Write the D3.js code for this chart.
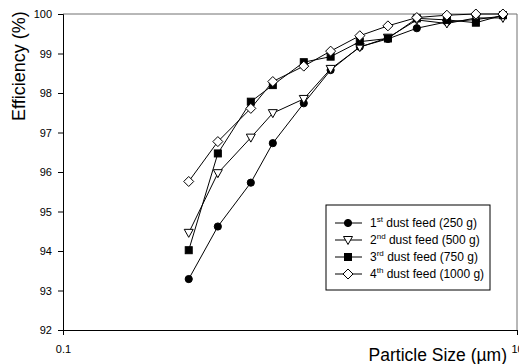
<!DOCTYPE html>
<html>
<head>
<meta charset="utf-8">
<script src="https://cdn.jsdelivr.net/npm/d3@7"></script>
<style>
  body { margin: 0; background: #fff; }
  svg { font-family: "Liberation Sans", Arial, sans-serif; }
</style>
</head>
<body>
<svg width="519" height="364"></svg>
<script>
// particle size (um) and collection efficiency (%) per dust feed
var sizes = [0.358, 0.481, 0.672, 0.84, 1.15, 1.51, 2.03, 2.70, 3.62, 4.91, 6.59, 8.67];
var feed1 = [93.29, 94.62, 95.73, 96.73, 97.74, 98.58, 99.17, 99.37, 99.64, 99.80, 99.86, 99.95];
var feed2 = [94.46, 95.97, 96.87, 97.49, 97.85, 98.61, 99.16, 99.40, 99.85, 99.76, 99.90, 99.90];
var feed3 = [94.02, 96.47, 97.78, 98.20, 98.78, 98.92, 99.30, 99.38, 99.89, 99.85, 99.78, 99.97];
var feed4 = [95.76, 96.77, 97.61, 98.29, 98.68, 99.06, 99.45, 99.70, 99.91, 99.97, 100.0, 100.0];
var yTicks = [92, 93, 94, 95, 96, 97, 98, 99, 100];
var xTicks = [0.1, 10];

var series = [
  { name: "1", sup: "st", rest: " dust feed (250 g)", values: feed1, shape: "circle" },
  { name: "2", sup: "nd", rest: " dust feed (500 g)", values: feed2, shape: "triangle" },
  { name: "3", sup: "rd", rest: " dust feed (750 g)", values: feed3, shape: "square" },
  { name: "4", sup: "th", rest: " dust feed (1000 g)", values: feed4, shape: "diamond" }
];

var margin = { top: 14, right: 2, bottom: 34, left: 63 };
var width = 519, height = 364;

var svg = d3.select("svg");

var x = d3.scaleLog()
  .domain([0.1, 10])
  .range([margin.left, width - margin.right]);

var y = d3.scaleLinear()
  .domain([92, 100])
  .range([height - margin.bottom, margin.top]);

// frame (top and right)
svg.append("line")
  .attr("x1", margin.left).attr("x2", width - margin.right)
  .attr("y1", margin.top).attr("y2", margin.top)
  .attr("stroke", "#707070");
svg.append("line")
  .attr("x1", width - margin.right).attr("x2", width - margin.right)
  .attr("y1", margin.top).attr("y2", height - margin.bottom)
  .attr("stroke", "#707070");

// axes
svg.append("g")
  .attr("transform", "translate(" + margin.left + ",0)")
  .call(d3.axisLeft(y).tickValues(yTicks).tickSize(5).tickPadding(6).tickFormat(d3.format("d")))
  .call(g => g.selectAll("text").attr("font-size", 11).attr("fill", "#000").attr("font-family", null));

svg.append("g")
  .attr("transform", "translate(0," + (height - margin.bottom) + ")")
  .call(d3.axisBottom(x).tickValues(xTicks).tickSize(5).tickPadding(10).tickFormat(d => d === 0.1 ? "0.1" : "10"))
  .call(g => g.selectAll("text").attr("font-size", 11).attr("fill", "#000").attr("font-family", null));

svg.selectAll(".domain").attr("stroke", "#000");

// axis titles
svg.append("text")
  .attr("transform", "translate(25,121) rotate(-90)")
  .attr("font-size", 18)
  .text("Efficiency (%)");

svg.append("text")
  .attr("x", 507)
  .attr("y", 361)
  .attr("text-anchor", "end")
  .attr("font-size", 17.5)
  .text("Particle Size (\u00b5m)");

// markers
function drawMarker(sel, shape) {
  if (shape === "circle") {
    sel.append("circle").attr("r", 3.6).attr("fill", "#000").attr("stroke", "#000");
  } else if (shape === "square") {
    sel.append("rect").attr("x", -3.5).attr("y", -3.5).attr("width", 7).attr("height", 7)
      .attr("fill", "#000").attr("stroke", "#000");
  } else if (shape === "triangle") {
    sel.append("path").attr("d", "M-4.5,-3.5L4.5,-3.5L0,4.5Z")
      .attr("fill", "#fff").attr("stroke", "#000");
  } else {
    sel.append("path").attr("d", "M0,-5L5,0L0,5L-5,0Z")
      .attr("fill", "#fff").attr("stroke", "#000");
  }
}

var line = d3.line()
  .x(d => x(d[0]))
  .y(d => y(d[1]));

series.forEach(function(s) {
  var pts = sizes.map((v, i) => [v, s.values[i]]);
  svg.append("path")
    .datum(pts)
    .attr("d", line)
    .attr("fill", "none")
    .attr("stroke", "#000")
    .attr("stroke-width", 1);
});

series.forEach(function(s) {
  var pts = sizes.map((v, i) => [v, s.values[i]]);
  svg.append("g").selectAll("g")
    .data(pts)
    .enter()
    .append("g")
    .attr("transform", d => "translate(" + x(d[0]) + "," + y(d[1]) + ")")
    .each(function() { drawMarker(d3.select(this), s.shape); });
});

// legend
var legend = svg.append("g").attr("transform", "translate(326,205)");
legend.append("rect")
  .attr("width", 164).attr("height", 85)
  .attr("fill", "#fff").attr("stroke", "#000");

series.forEach(function(s, i) {
  var row = legend.append("g").attr("transform", "translate(0," + (18 + i * 17) + ")");
  row.append("line").attr("x1", 9).attr("x2", 36).attr("stroke", "#000");
  var m = row.append("g").attr("transform", "translate(22,0)");
  drawMarker(m, s.shape);
  var t = row.append("text").attr("x", 44).attr("y", 4).attr("font-size", 12);
  t.append("tspan").text(s.name);
  t.append("tspan").attr("font-size", 8).attr("dy", -5).text(s.sup);
  t.append("tspan").attr("dy", 5).text(s.rest);
});
</script>
</body>
</html>
